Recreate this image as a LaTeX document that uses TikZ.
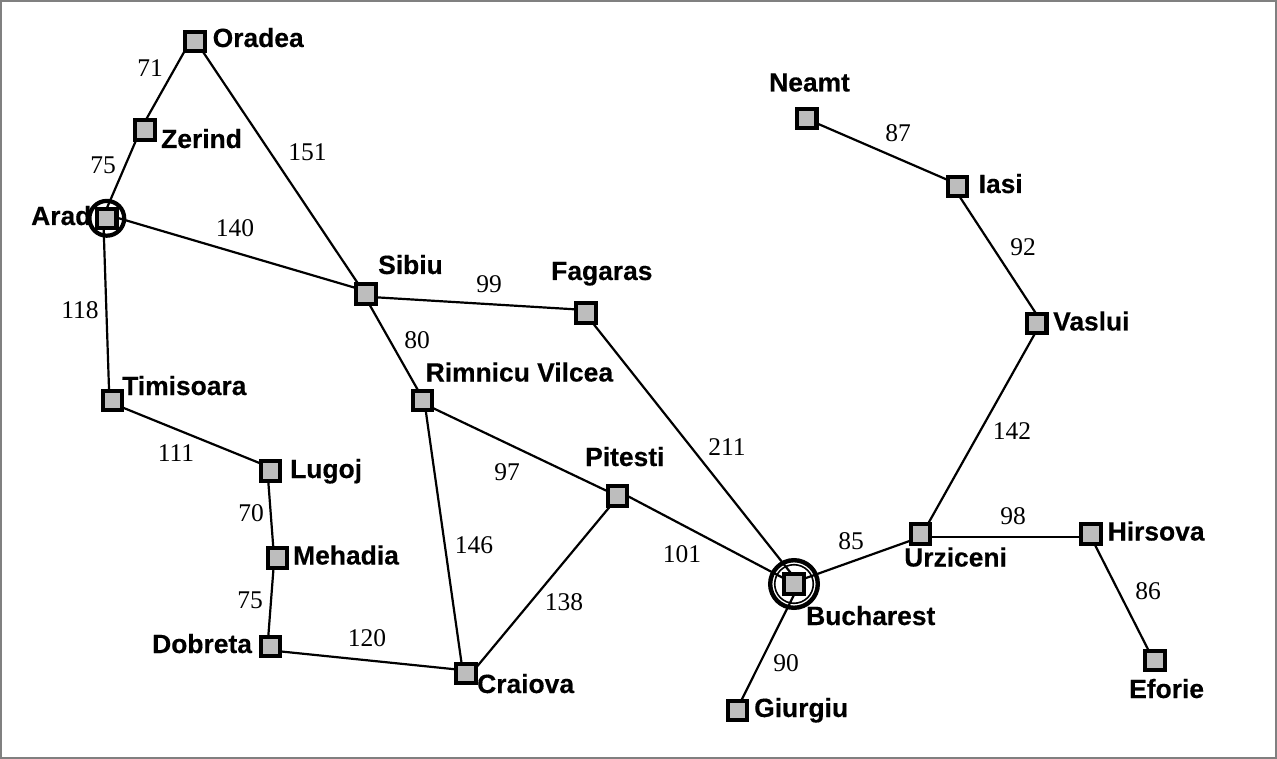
\documentclass[tikz,border=0pt]{standalone}
\usepackage{fontspec}
\setmainfont{Liberation Serif}
\newfontfamily\citybf[BoldFeatures={FakeBold=0.35}]{Liberation Sans}
\definecolor{cityfill}{gray}{0.74}
\definecolor{frameedge}{gray}{0.5}
\pgfdeclarelayer{roadlayer}
\pgfsetlayers{roadlayer,main}
\tikzset{
  city/.style={draw=black,fill=cityfill,line width=4.2pt,minimum size=19.3pt,inner sep=0pt,outer sep=0pt,rectangle},
  road/.style={line width=2.2pt,black},
  citylabel/.style={font=\citybf\bfseries\fontsize{26.4pt}{27pt}\selectfont,inner sep=0pt,anchor=base west,text=black},
  dist/.style={font=\fontsize{25.5pt}{26pt}\selectfont,inner sep=0pt,text=black}
}
% road from node #1 (shifted by #2,#3) to node #4 (shifted by #5,#6)
\newcommand{\roadline}[6]{\draw[road] ([shift={(#2,#3)}]#1.center) -- ([shift={(#5,#6)}]#4.center);}
\begin{document}
\begin{tikzpicture}[x=1pt,y=-1pt]
\useasboundingbox (0,0) rectangle (1277,759);
% city squares
\node[city] (oradea) at (195,41.7) {};
\node[city] (zerind) at (145,130) {};
\node[city] (arad) at (106.8,218.3) {};
\node[city] (timisoara) at (112.7,400.5) {};
\node[city] (lugoj) at (270.5,471) {};
\node[city] (mehadia) at (277.3,558) {};
\node[city] (dobreta) at (270.5,646.7) {};
\node[city] (craiova) at (466,673.3) {};
\node[city] (rimnicu) at (422.3,400.5) {};
\node[city] (sibiu) at (366,294) {};
\node[city] (fagaras) at (586,313) {};
\node[city] (pitesti) at (617.5,496) {};
\node[city] (bucharest) at (794,584) {};
\node[city] (giurgiu) at (737.3,710.5) {};
\node[city] (urziceni) at (920.7,534) {};
\node[city] (hirsova) at (1091,534) {};
\node[city] (eforie) at (1155,660.5) {};
\node[city] (vaslui) at (1036.8,323.3) {};
\node[city] (iasi) at (957.5,186.5) {};
\node[city] (neamt) at (806.8,118.3) {};
\begin{pgfonlayer}{roadlayer}
\fill[white] (0,0) rectangle (1277,759);
\draw[frameedge,line width=2pt] (1,1) rectangle (1276,758);
% roads
\roadline{oradea}{-5.1}{0}{zerind}{-4.8}{0}
\roadline{zerind}{-4.5}{0}{arad}{-4.3}{0}
\roadline{oradea}{1.2}{0}{sibiu}{-1}{0}
\roadline{arad}{0}{-3.6}{sibiu}{0}{-3}
\roadline{arad}{-3.5}{0}{timisoara}{-3.3}{0}
\roadline{timisoara}{0}{3}{lugoj}{0}{-3.5}
\roadline{lugoj}{-3}{0}{mehadia}{-3.2}{0}
\roadline{mehadia}{-3}{0}{dobreta}{-3}{0}
\roadline{dobreta}{0}{3.7}{craiova}{0}{-2.9}
\roadline{sibiu}{0}{2.7}{fagaras}{0}{-3}
\roadline{sibiu}{-2.5}{0}{rimnicu}{1.5}{0}
\roadline{rimnicu}{2}{0}{craiova}{-3}{0}
\roadline{rimnicu}{0}{2.5}{pitesti}{0}{0}
\roadline{craiova}{5.4}{0}{pitesti}{1.2}{0}
\roadline{pitesti}{0}{-5.3}{bucharest}{0}{-0.3}
\roadline{fagaras}{-1.2}{0}{bucharest}{5.5}{0}
\roadline{bucharest}{5.4}{0}{giurgiu}{-1}{0}
\roadline{bucharest}{0}{-1.7}{urziceni}{0}{3}
\roadline{urziceni}{0}{3.3}{hirsova}{0}{3.3}
\roadline{hirsova}{-1.6}{0}{eforie}{-1.3}{0}
\roadline{urziceni}{1.6}{0}{vaslui}{3.9}{0}
\roadline{vaslui}{5.6}{0}{iasi}{-4.5}{0}
\roadline{iasi}{0}{-2.3}{neamt}{0}{0.7}
% rings
\draw[line width=4.2pt] (arad.center) circle (17.4);
\draw[line width=4.4pt] (bucharest.center) circle (23.8);
\draw[line width=1.6pt] (bucharest.center) circle (19.3);
\end{pgfonlayer}
% city labels
\node[citylabel] (lOradea) at (212.5,47) {Oradea};
\node[citylabel] (lZerind) at (161,148) {Zerind};
\node[citylabel] (lArad) at (31,225) {Arad};
\node[citylabel] (lTimisoara) at (122,395) {Timisoara};
\node[citylabel] (lLugoj) at (290,478) {Lugoj};
\node[citylabel] (lMehadia) at (293,564.5) {Mehadia};
\node[citylabel] (lDobreta) at (152,653) {Dobreta};
\node[citylabel] (lCraiova) at (477,693) {Craiova};
\node[citylabel] (lRimnicu) at (425.5,381.5) {Rimnicu Vilcea};
\node[citylabel] (lSibiu) at (378,274) {Sibiu};
\node[citylabel] (lFagaras) at (551,280) {Fagaras};
\node[citylabel] (lPitesti) at (585,466) {Pitesti};
\node[citylabel] (lBucharest) at (806,625) {Bucharest};
\node[citylabel] (lGiurgiu) at (754,717) {Giurgiu};
\node[citylabel] (lUrziceni) at (904,566.5) {Urziceni};
\node[citylabel] (lHirsova) at (1107.5,540.5) {Hirsova};
\node[citylabel] (lEforie) at (1129,698) {Eforie};
\node[citylabel] (lVaslui) at (1053,330.5) {Vaslui};
\node[citylabel] (lIasi) at (978.5,193) {Iasi};
\node[citylabel] (lNeamt) at (769,91.5) {Neamt};
% distances
\node[dist] (d71) at (150,68) {71};
\node[dist] (d75a) at (103,165) {75};
\node[dist] (d151) at (307.5,152) {151};
\node[dist] (d140) at (235,228) {140};
\node[dist] (d118) at (80,310) {118};
\node[dist] (d111) at (176,453) {111};
\node[dist] (d70) at (251,513) {70};
\node[dist] (d75b) at (250,600) {75};
\node[dist] (d120) at (367,638) {120};
\node[dist] (d99) at (489,284) {99};
\node[dist] (d80) at (417,340) {80};
\node[dist] (d97) at (507,472) {97};
\node[dist] (d146) at (474,545) {146};
\node[dist] (d138) at (564,602) {138};
\node[dist] (d101) at (682,554) {101};
\node[dist] (d211) at (727,447) {211};
\node[dist] (d85) at (851,541) {85};
\node[dist] (d90) at (786,663) {90};
\node[dist] (d98) at (1013,516) {98};
\node[dist] (d86) at (1148,591) {86};
\node[dist] (d142) at (1012,431) {142};
\node[dist] (d92) at (1023,247) {92};
\node[dist] (d87) at (898,133) {87};
\end{tikzpicture}
\end{document}
